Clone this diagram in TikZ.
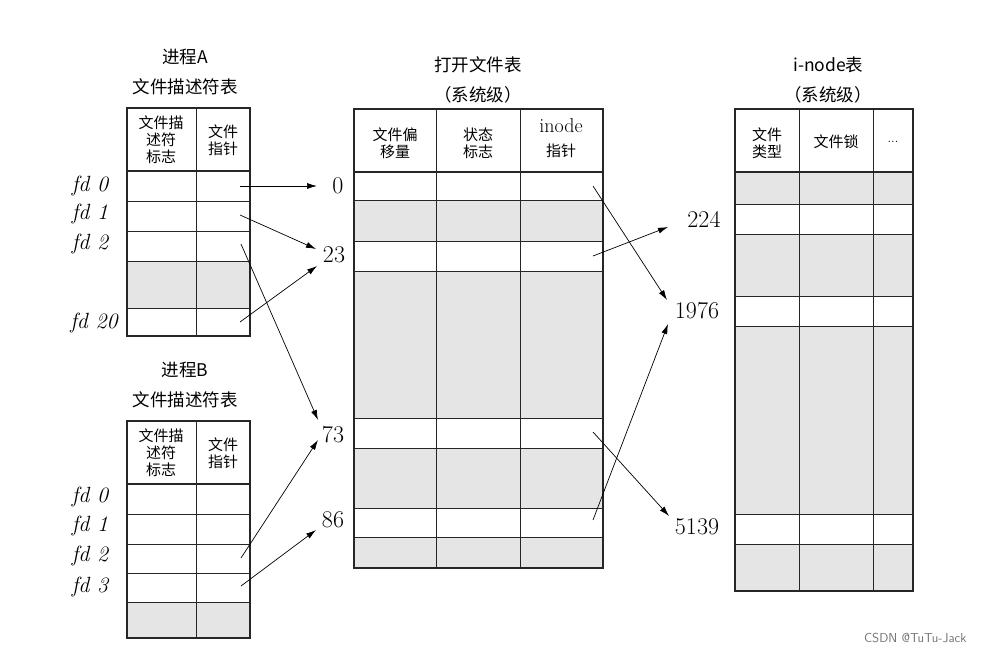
\documentclass[tikz,border=0pt]{standalone}
\usepackage{fontspec}
\newfontfamily\cjk{Noto Sans CJK SC}
\usetikzlibrary{arrows.meta}
\begin{document}
\begin{tikzpicture}[x=1pt,y=-1pt,
  gr/.style={fill=black!10},
  tb/.style={draw=black!85,line width=0.6pt},
  ol/.style={draw=black!85,line width=1.3pt},
  hd/.style={font=\cjk\fontsize{15}{17}\selectfont,align=center,inner sep=0},
  tt/.style={font=\cjk\fontsize{17.5}{30}\selectfont,align=center,inner sep=0},
  fd/.style={font=\itshape\fontsize{22}{22}\selectfont,anchor=center,inner sep=0},
  num/.style={font=\fontsize{24}{24}\selectfont,inner sep=1pt},
  ar/.style={-{Latex[length=10pt,width=6pt]},line width=0.7pt}]
\useasboundingbox (0,0) rectangle (983,655);
% ---- table A
\fill[gr] (127,261) rectangle (250,308);
\foreach \y in {201,231,261,308} \draw[tb] (127,\y)--(250,\y);
\draw[ol] (127,171)--(250,171);
\draw[tb] (196,108)--(196,336);
\draw[ol] (127,108) rectangle (250,336);
\node[hd] (ha1) at (161,140) {文件描\\述符\\标志};
\node[hd] (ha2) at (223,140) {文件\\指针};
\node[tt] (ta) at (185,72) {进程A\\文件描述符表};
\node[fd] (a0) at (90,186) {fd 0};
\node[fd] (a1) at (90,214) {fd 1};
\node[fd] (a2) at (90,244) {fd 2};
\node[fd] (a20) at (94,323) {fd 20};
% ---- table B
\fill[gr] (127,602) rectangle (250,638);
\foreach \y in {514,544,573,602} \draw[tb] (127,\y)--(250,\y);
\draw[ol] (127,484)--(250,484);
\draw[tb] (196,421)--(196,638);
\draw[ol] (127,421) rectangle (250,638);
\node[hd] (hb1) at (161,453) {文件描\\述符\\标志};
\node[hd] (hb2) at (223,453) {文件\\指针};
\node[tt] (tb) at (185,385) {进程B\\文件描述符表};
\node[fd] (b0) at (90,497) {fd 0};
\node[fd] (b1) at (90,526) {fd 1};
\node[fd] (b2) at (90,556) {fd 2};
\node[fd] (b3) at (90,587) {fd 3};
% ---- open file table
\fill[gr] (354,200) rectangle (603,241);
\fill[gr] (354,271) rectangle (603,418);
\fill[gr] (354,448) rectangle (603,508);
\fill[gr] (354,537) rectangle (603,568);
\foreach \y in {200,241,271,418,448,508,537} \draw[tb] (354,\y)--(603,\y);
\draw[ol] (354,172)--(603,172);
\draw[tb] (436,109)--(436,568) (520,109)--(520,568);
\draw[ol] (354,109) rectangle (603,568);
\node[hd] (ho1) at (395,143) {文件偏\\移量};
\node[hd] (ho2) at (478,143) {状态\\标志};
\node[hd,font=\fontsize{20}{20}\selectfont] (ho3) at (561,126) {inode};
\node[hd] (ho3b) at (561,151) {指针};
\node[tt] (to) at (478,80) {打开文件表\\（系统级）};
% ---- inode table
\fill[gr] (735,172) rectangle (913,204);
\fill[gr] (735,234) rectangle (913,296);
\fill[gr] (735,326) rectangle (913,514);
\fill[gr] (735,544) rectangle (913,591);
\foreach \y in {204,234,296,326,514,544} \draw[tb] (735,\y)--(913,\y);
\draw[ol] (735,172)--(913,172);
\draw[tb] (799,109)--(799,591) (873,109)--(873,591);
\draw[ol] (735,109) rectangle (913,591);
\node[hd] (hi1) at (767,143) {文件\\类型};
\node[hd] (hi2) at (836,142) {文件锁};
\node[hd,font=\fontsize{13}{13}\selectfont] (hi3) at (893,142) {...};
\node[tt] (ti) at (828,80) {i-node\kern-1pt 表\\（系统级）};
% ---- numbers
\node[num] (n0) at (338,186) {0};
\node[num] (n23) at (334,255) {23};
\node[num] (n73) at (333,435) {73};
\node[num] (n86) at (333,520) {86};
\node[num] (n224) at (704,219) {224};
\node[num] (n1976) at (697,311) {1976};
\node[num] (n5139) at (697,527) {5139};
% ---- arrow starts
\coordinate (sa0) at (240,186);
\coordinate (sa1) at (240,215);
\coordinate (sa2) at (241,244);
\coordinate (sa20) at (240,322);
\coordinate (sb2) at (241,558);
\coordinate (sb3) at (241,586);
\coordinate (so0) at (593,186);
\coordinate (so23) at (593,256);
\coordinate (so73) at (593,432);
\coordinate (so86) at (593,520);
\coordinate (e0) at (317,186);
\coordinate (e23a) at (316,249);
\coordinate (e23b) at (317,266);
\coordinate (e73a) at (318,420);
\coordinate (e73b) at (318,440);
\coordinate (e86) at (316,530);
\coordinate (e1976a) at (667,300);
\coordinate (e1976b) at (668,324);
\coordinate (e224) at (668,227);
\coordinate (e5139) at (669,516);
\draw[ar] (sa0)--(e0);
\draw[ar] (sa1)--(e23a);
\draw[ar] (sa2)--(e73a);
\draw[ar] (sa20)--(e23b);
\draw[ar] (sb2)--(e73b);
\draw[ar] (sb3)--(e86);
\draw[ar] (so0)--(e1976a);
\draw[ar] (so23)--(e224);
\draw[ar] (so73)--(e5139);
\draw[ar] (so86)--(e1976b);
\node[font=\fontsize{13}{13}\selectfont\sffamily,text=black!55,anchor=east] (wm) at (970,638) {CSDN @TuTu-Jack};
\end{tikzpicture}
\end{document}
